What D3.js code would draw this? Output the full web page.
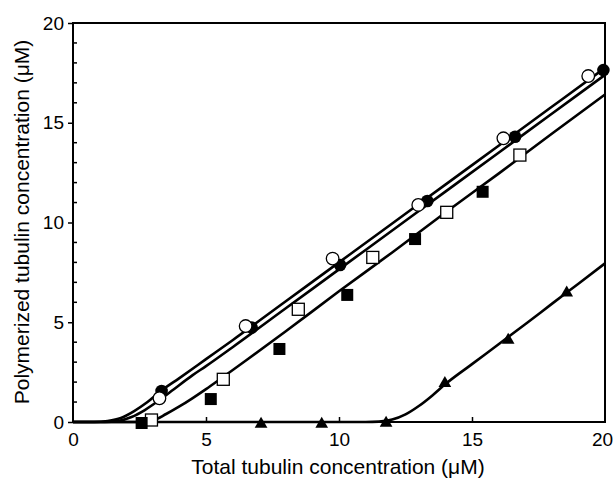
<!DOCTYPE html>
<html>
<head>
<meta charset="utf-8">
<script src="https://cdn.jsdelivr.net/npm/d3@7"></script>
<style>
  body { margin: 0; background: #fff; }
  text { font-family: "Liberation Sans", Arial, Helvetica, sans-serif; fill: #000; }
</style>
</head>
<body>
<div id="chart"></div>
<script>
// measured points [total, polymerized] in uM
var filledCircles = [[3.33, 1.55], [6.72, 4.73], [10.04, 7.87], [13.32, 11.08], [16.62, 14.3], [19.94, 17.64]];
var openCircles = [[3.25, 1.19], [6.49, 4.81], [9.76, 8.19], [12.98, 10.88], [16.18, 14.22], [19.37, 17.34]];
var openSquares = [[2.95, 0.1], [5.65, 2.14], [8.47, 5.65], [11.27, 8.25], [14.05, 10.51], [16.8, 13.38]];
var filledSquares = [[2.58, -0.05], [5.18, 1.15], [7.76, 3.66], [10.31, 6.37], [12.86, 9.17], [15.4, 11.54]];
var triangles = [[7.07, -0.1], [9.35, -0.1], [11.77, -0.05], [13.98, 1.94], [16.36, 4.11], [18.56, 6.48]];

// fitted curves
var curve1 = [[0, 0], [0.8, 0], [1.3, 0.05], [1.8, 0.2], [2.3, 0.55], [2.8, 1.0], [3.3, 1.55], [4, 2.2], [5, 3.15], [6, 4.1], [8, 6.05], [10, 8.0], [12, 9.95], [14, 11.9], [16, 13.85], [18, 15.8], [20, 17.75]];
var curve2 = [[0, 0], [1.2, 0], [1.7, 0.05], [2.2, 0.25], [2.7, 0.6], [3.2, 1.05], [3.7, 1.55], [4.5, 2.35], [5, 2.8], [6, 3.75], [8, 5.7], [10, 7.65], [12, 9.6], [14, 11.55], [16, 13.5], [18, 15.45], [20, 17.4]];
var curve3 = [[0, 0], [2.4, 0], [3.0, 0.08], [3.5, 0.4], [4, 0.78], [4.5, 1.2], [5, 1.65], [5.5, 2.12], [6.5, 3.08], [8, 4.55], [10, 6.55], [12, 8.5], [14, 10.5], [16, 12.45], [18, 14.45], [20, 16.42]];
var curve4 = [[0, 0], [11, 0], [11.5, 0.02], [12, 0.12], [12.5, 0.38], [13, 0.8], [13.5, 1.32], [14, 1.9], [15, 2.9], [16, 3.9], [17, 4.9], [18, 5.92], [19, 6.93], [20, 7.95]];

var xTicks = [0, 5, 10, 15, 20];
var yTicks = [0, 5, 10, 15, 20];

var svgWidth = 615;
var svgHeight = 482;

var svg = d3.select("#chart")
    .append("svg")
    .attr("width", svgWidth)
    .attr("height", svgHeight);

var x = d3.scaleLinear().domain([0, 20]).range([73, 605]);
var y = d3.scaleLinear().domain([0, 20]).range([422, 23]);

// curves first so markers sit on top
var line = d3.line()
    .x(d => x(d[0]))
    .y(d => y(d[1]))
    .curve(d3.curveMonotoneX);

[curve1, curve2, curve3, curve4].forEach(function (c) {
    svg.append("path")
        .attr("d", line(c))
        .attr("fill", "none")
        .attr("stroke", "#000")
        .attr("stroke-width", 2.6);
});

// frame
svg.append("rect")
    .attr("x", x(0))
    .attr("y", y(20))
    .attr("width", x(20) - x(0))
    .attr("height", y(0) - y(20))
    .attr("fill", "none")
    .attr("stroke", "#000")
    .attr("stroke-width", 2);

// bottom axis, ticks point inward
var bottomAxis = d3.axisBottom(x).tickValues(xTicks).tickSizeInner(-5).tickSizeOuter(0).tickPadding(11);
var gx = svg.append("g")
    .attr("transform", `translate(0, ${y(0)})`)
    .call(bottomAxis);
gx.select(".domain").remove();
gx.selectAll(".tick line").attr("stroke-width", 1.5);
gx.selectAll("text").attr("font-size", 19).attr("dy", "0.71em");
gx.selectAll(".tick").filter(d => d === 0 || d === 20).select("line").remove();
gx.selectAll(".tick").filter(d => d === 20).select("text").attr("dx", -3);

// left axis, major ticks outward
var leftAxis = d3.axisLeft(y).tickValues(yTicks).tickSizeInner(5).tickSizeOuter(0).tickPadding(4);
var gy = svg.append("g")
    .attr("transform", `translate(${x(0)}, 0)`)
    .call(leftAxis);
gy.select(".domain").remove();
gy.selectAll(".tick line").attr("stroke-width", 1.5);
gy.selectAll("text").attr("font-size", 19);

// minor y ticks inward
var minor = d3.range(1, 20).filter(v => v % 5 !== 0);
svg.append("g").selectAll("line")
    .data(minor)
    .enter()
    .append("line")
    .attr("x1", x(0))
    .attr("x2", x(0) + 4)
    .attr("y1", d => y(d))
    .attr("y2", d => y(d))
    .attr("stroke", "#000")
    .attr("stroke-width", 1.5);

// markers
var marks = svg.append("g");

marks.selectAll(".fc").data(filledCircles).enter().append("circle")
    .attr("cx", d => x(d[0])).attr("cy", d => y(d[1])).attr("r", 6.3)
    .attr("fill", "#000");

marks.selectAll(".oc").data(openCircles).enter().append("circle")
    .attr("cx", d => x(d[0])).attr("cy", d => y(d[1])).attr("r", 6.3)
    .attr("fill", "#fff").attr("stroke", "#000").attr("stroke-width", 1.3);

marks.selectAll(".os").data(openSquares).enter().append("rect")
    .attr("x", d => x(d[0]) - 6).attr("y", d => y(d[1]) - 6)
    .attr("width", 12).attr("height", 12)
    .attr("fill", "#fff").attr("stroke", "#000").attr("stroke-width", 1.3);

marks.selectAll(".fs").data(filledSquares).enter().append("rect")
    .attr("x", d => x(d[0]) - 6).attr("y", d => y(d[1]) - 6)
    .attr("width", 12).attr("height", 12)
    .attr("fill", "#000");

var tri = d3.symbol().type(d3.symbolTriangle).size(70);
marks.selectAll(".tr").data(triangles).enter().append("path")
    .attr("d", tri)
    .attr("transform", d => `translate(${x(d[0])}, ${y(d[1])})`)
    .attr("fill", "#000");

// axis titles
svg.append("text")
    .attr("x", 338)
    .attr("y", 474)
    .attr("text-anchor", "middle")
    .attr("font-size", 21)
    .text("Total tubulin concentration (\u03bcM)");

svg.append("text")
    .attr("transform", "translate(29, 222) rotate(-90)")
    .attr("text-anchor", "middle")
    .attr("font-size", 21)
    .text("Polymerized tubulin concentration (\u03bcM)");
</script>
</body>
</html>
